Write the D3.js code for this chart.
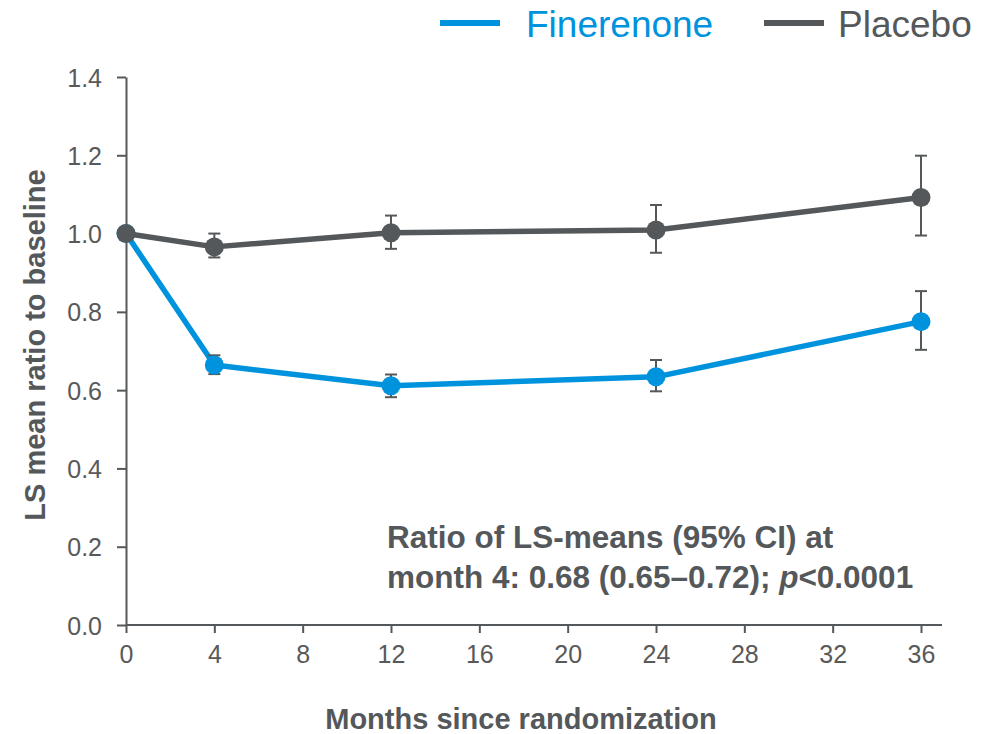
<!DOCTYPE html>
<html>
<head>
<meta charset="utf-8">
<script src="https://cdn.jsdelivr.net/npm/d3@7/dist/d3.min.js"></script>
<style>
  html, body { margin: 0; padding: 0; background: #fff; }
  svg { display: block; font-family: Arial, "Liberation Sans", sans-serif; }
</style>
</head>
<body>
<svg id="chart" width="1000" height="734"></svg>
<script>
// Visit months and LS-mean ratio to baseline with 95% CI
const months = [0, 4, 12, 24, 36];
const finerenoneMean  = [1.000, 0.664, 0.611, 0.634, 0.775];
const finerenoneLower = [1.000, 0.641, 0.582, 0.597, 0.703];
const finerenoneUpper = [1.000, 0.689, 0.640, 0.677, 0.853];
const placeboMean  = [1.000, 0.966, 1.002, 1.009, 1.092];
const placeboLower = [1.000, 0.939, 0.961, 0.951, 0.995];
const placeboUpper = [1.000, 1.000, 1.046, 1.073, 1.199];

const xTicks = [0, 4, 8, 12, 16, 20, 24, 28, 32, 36];
const yTicks = [0.0, 0.2, 0.4, 0.6, 0.8, 1.0, 1.2, 1.4];
const seriesNames = ["Finerenone", "Placebo"];

const BLUE = "#0093dd";
const GREY = "#54585a";

const svg = d3.select("#chart");

const x = d3.scaleLinear().domain([0, 36]).range([126, 921]);
const y = d3.scaleLinear().domain([0, 1.4]).range([625, 77]);

// Axes
const xAxis = svg.append("g")
  .attr("transform", `translate(0,${y(0)})`)
  .call(d3.axisBottom(x).tickValues(xTicks).tickSize(8).tickSizeOuter(0).tickPadding(12).tickFormat(d3.format("d")));
xAxis.select(".domain").attr("d", `M${x(0)},0H${x(36) + 21}`);

const yAxis = svg.append("g")
  .attr("transform", `translate(${x(0)},0)`)
  .call(d3.axisLeft(y).tickValues(yTicks).tickSize(9).tickSizeOuter(0).tickPadding(15).tickFormat(d3.format(".1f")));

svg.selectAll(".domain, .tick line")
  .attr("stroke", GREY).attr("stroke-width", 2);
svg.selectAll(".tick text")
  .attr("fill", "#595959")
  .style("font-size", "25px")
  .style("font-family", "Arial, 'Liberation Sans', sans-serif");
yAxis.selectAll(".tick text").attr("dy", "0.36em");

// Axis titles
svg.append("text")
  .attr("transform", `translate(45,345) rotate(-90)`)
  .attr("text-anchor", "middle")
  .attr("fill", GREY)
  .style("font-size", "29px").style("font-weight", "bold")
  .text("LS mean ratio to baseline");

svg.append("text")
  .attr("x", 521).attr("y", 729)
  .attr("text-anchor", "middle")
  .attr("fill", GREY)
  .style("font-size", "29px").style("font-weight", "bold")
  .text("Months since randomization");

// Series
const series = [
  { name: seriesNames[0], color: BLUE, mean: finerenoneMean, lo: finerenoneLower, hi: finerenoneUpper },
  { name: seriesNames[1], color: GREY, mean: placeboMean, lo: placeboLower, hi: placeboUpper }
];

const line = d3.line().x(d => x(d.m)).y(d => y(d.v));

series.forEach(s => {
  const pts = months.map((m, i) => ({ m, v: s.mean[i], lo: s.lo[i], hi: s.hi[i] }));
  const g = svg.append("g");
  g.append("path")
    .datum(pts)
    .attr("d", line)
    .attr("fill", "none")
    .attr("stroke", s.color)
    .attr("stroke-width", 5.5)
    .attr("stroke-linejoin", "round");

  const eb = g.selectAll(".eb").data(pts.filter(p => p.hi > p.lo)).join("g");
  eb.append("line")
    .attr("x1", d => x(d.m)).attr("x2", d => x(d.m))
    .attr("y1", d => y(d.hi)).attr("y2", d => y(d.lo));
  eb.append("line")
    .attr("x1", d => x(d.m) - 6).attr("x2", d => x(d.m) + 6)
    .attr("y1", d => y(d.hi)).attr("y2", d => y(d.hi));
  eb.append("line")
    .attr("x1", d => x(d.m) - 6).attr("x2", d => x(d.m) + 6)
    .attr("y1", d => y(d.lo)).attr("y2", d => y(d.lo));
  eb.selectAll("line").attr("stroke", GREY).attr("stroke-width", 2);

  g.selectAll("circle").data(pts).join("circle")
    .attr("cx", d => x(d.m)).attr("cy", d => y(d.v))
    .attr("r", 9.5)
    .attr("fill", s.color);
});

// Annotation
const note = svg.append("text")
  .attr("x", 387).attr("y", 548)
  .attr("fill", GREY)
  .style("font-size", "31.5px").style("font-weight", "bold");
note.append("tspan").attr("x", 387).attr("y", 548).text("Ratio of LS-means (95% CI) at");
const l2 = note.append("tspan").attr("x", 387).attr("y", 588);
l2.append("tspan").text("month 4: 0.68 (0.65\u20130.72); ");
l2.append("tspan").style("font-style", "italic").text("p");
l2.append("tspan").text("<0.0001");

// Legend
const legend = svg.append("g");
const legendItems = [
  { name: seriesNames[0], color: BLUE, x1: 440, x2: 500, tx: 526 },
  { name: seriesNames[1], color: GREY, x1: 764, x2: 824, tx: 838 }
];
legendItems.forEach(d => {
  legend.append("line")
    .attr("x1", d.x1).attr("x2", d.x2).attr("y1", 23).attr("y2", 23)
    .attr("stroke", d.color).attr("stroke-width", 6);
  legend.append("text")
    .attr("x", d.tx).attr("y", 37)
    .attr("fill", d.color)
    .style("font-size", "37px")
    .text(d.name);
});
</script>
</body>
</html>
